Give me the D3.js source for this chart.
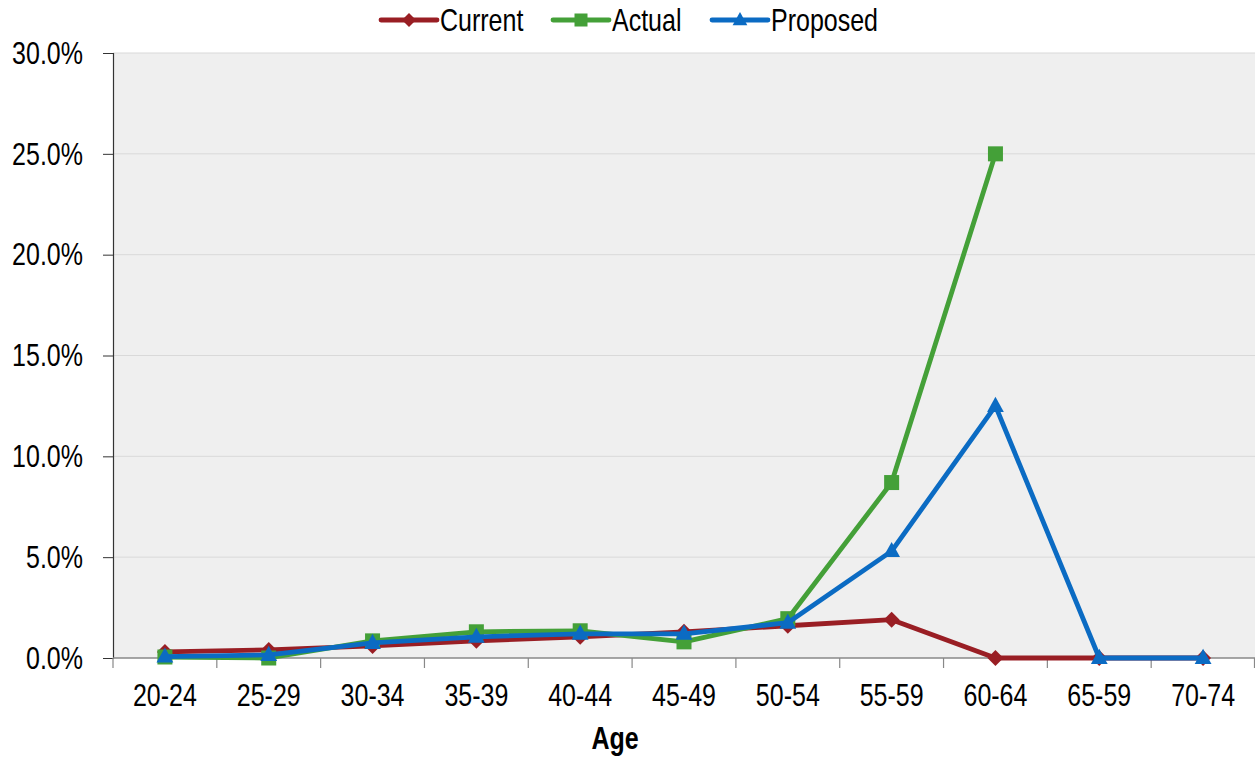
<!DOCTYPE html>
<html>
<head>
<meta charset="utf-8">
<script src="https://cdn.jsdelivr.net/npm/d3@7"></script>
<style>
  html, body { margin: 0; padding: 0; background: #fff; }
  svg text { font-family: "Liberation Sans Narrow", "Arial Narrow", "Liberation Sans", Arial, sans-serif; fill: #000; }
</style>
</head>
<body>
<svg id="chart" width="1255" height="757"></svg>
<script>
// Age bands on the x axis
const ages = ["20-24", "25-29", "30-34", "35-39", "40-44", "45-49", "50-54", "55-59", "60-64", "65-59", "70-74"];

// Rates per age band (percent); null = no value
const current  = [0.3, 0.4, 0.6, 0.85, 1.05, 1.3, 1.6, 1.9, 0, 0, 0];
const actual   = [0.05, 0.0, 0.85, 1.3, 1.35, 0.8, 1.95, 8.7, 25.0, null, null];
const proposed = [0.07, 0.15, 0.75, 1.05, 1.2, 1.2, 1.75, 5.3, 12.5, 0, 0];

const yTicks = [0, 5, 10, 15, 20, 25, 30];

const series = [
  { name: "Current",  values: current,  color: "#991e24", marker: "diamond" },
  { name: "Actual",   values: actual,   color: "#44a038", marker: "square" },
  { name: "Proposed", values: proposed, color: "#0b6bc3", marker: "triangle" }
];

const svg = d3.select("#chart");
const plotL = 113, plotR = 1255, plotT = 53, plotB = 658;
const FS = "30.5px", SQ = 0.82; // font size and horizontal condensing

const x = d3.scaleBand().domain(ages).range([plotL, plotR]);
const y = d3.scaleLinear().domain([0, 30]).range([plotB, plotT]);

// condensed text helper
function label(parent, tx, ty, str, anchor, bold) {
  const t = parent.append("text")
    .attr("transform", `translate(${tx},${ty}) scale(${SQ},1)`)
    .attr("text-anchor", anchor).attr("dy", "0.35em")
    .style("font-size", FS).text(str);
  if (bold) t.style("font-weight", "bold");
  return t;
}

// plot background
svg.append("rect").attr("x", plotL).attr("y", plotT)
  .attr("width", plotR - plotL).attr("height", plotB - plotT).attr("fill", "#efefef");

// horizontal gridlines
svg.append("g").selectAll("line").data(yTicks.filter(d => d > 0)).join("line")
  .attr("x1", plotL).attr("x2", plotR)
  .attr("y1", d => y(d)).attr("y2", d => y(d))
  .attr("stroke", "#d9d9d9").attr("stroke-width", 1);

// y axis
const yAxis = svg.append("g").attr("transform", `translate(${plotL},0)`)
  .call(d3.axisLeft(y).tickValues(yTicks).tickFormat("").tickSize(10));
yAxis.select(".domain").attr("stroke", "#333").attr("stroke-width", 1.2);
yAxis.selectAll(".tick line").attr("stroke", "#333");
const yl = svg.append("g");
yTicks.forEach(d => label(yl, 83, y(d), d.toFixed(1) + "%", "end"));

// x axis: ticks at band boundaries
const xg = svg.append("g");
xg.append("line").attr("x1", plotL).attr("x2", plotR).attr("y1", plotB).attr("y2", plotB)
  .attr("stroke", "#888").attr("stroke-width", 1.5);
const bounds = ages.map(a => x(a)).concat([plotR]);
xg.selectAll("line.tk").data(bounds).join("line").attr("class", "tk")
  .attr("x1", d => Math.min(d, plotR - 0.5)).attr("x2", d => Math.min(d, plotR - 0.5))
  .attr("y1", plotB).attr("y2", plotB + 10)
  .attr("stroke", "#888").attr("stroke-width", 1.2);
ages.forEach(a => label(xg, x(a) + x.bandwidth() / 2, 695, a, "middle"));

label(svg, 615, 738, "Age", "middle", true);

// markers
function marker(sel, type, color, s) {
  if (type === "diamond") {
    sel.append("path").attr("d", `M0,${-s}L${s},0L0,${s}L${-s},0Z`).attr("fill", color);
  } else if (type === "square") {
    sel.append("rect").attr("x", -s).attr("y", -s).attr("width", 2 * s).attr("height", 2 * s).attr("fill", color);
  } else {
    sel.append("path").attr("d", `M0,${-s * 1.15}L${s * 1.05},${s * 0.75}L${-s * 1.05},${s * 0.75}Z`).attr("fill", color);
  }
}

const cx = i => x(ages[i]) + x.bandwidth() / 2;
const line = d3.line().defined(d => d.v !== null).x(d => cx(d.i)).y(d => y(d.v));

series.forEach(s => {
  const pts = s.values.map((v, i) => ({ v, i }));
  svg.append("path").datum(pts).attr("d", line)
    .attr("fill", "none").attr("stroke", s.color).attr("stroke-width", 4.8)
    .attr("stroke-linejoin", "round");
  pts.filter(p => p.v !== null).forEach(p => {
    const g = svg.append("g").attr("transform", `translate(${cx(p.i)},${y(p.v)})`);
    marker(g, s.marker, s.color, s.marker === "square" ? 7.5 : 8);
  });
});

// legend
const legendPos = [381, 553, 712];
series.forEach((s, k) => {
  const g = svg.append("g").attr("transform", `translate(${legendPos[k]},20)`);
  g.append("line").attr("x1", 0).attr("x2", 56).attr("y1", 0).attr("y2", 0)
    .attr("stroke", s.color).attr("stroke-width", 4.8).attr("stroke-linecap", "round");
  const m = g.append("g").attr("transform", "translate(28,0)");
  marker(m, s.marker, s.color, s.marker === "square" ? 6.5 : 7);
  label(g, 59, 0, s.name, "start");
});
</script>
</body>
</html>
